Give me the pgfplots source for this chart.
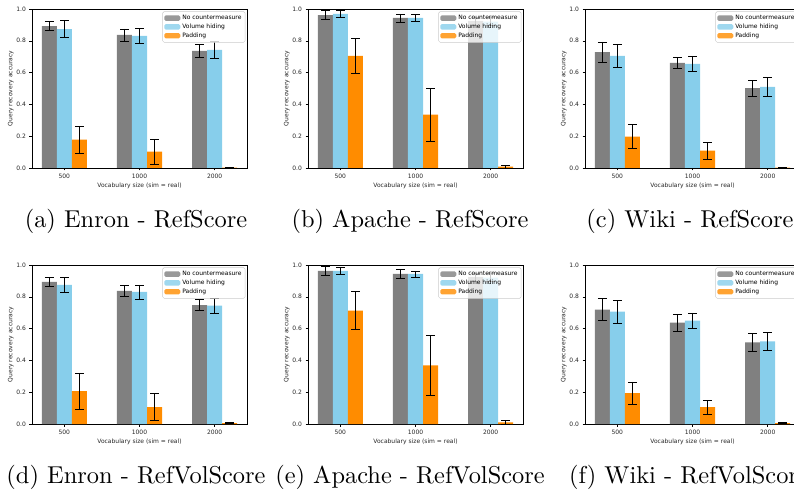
\documentclass[border=0pt]{standalone}
\usepackage{fontspec}
\usepackage{pgfplots}
\usepackage{pgfplotstable}
\pgfplotsset{compat=1.18}
\newfontfamily\mpl{DejaVu Sans}
\newfontfamily\capfont{lmroman10-regular.otf}
\newcommand{\mplsize}{\mpl\fontsize{6}{7.2}\selectfont}
\definecolor{cgray}{HTML}{808080}
\definecolor{cblue}{HTML}{87CEEB}
\definecolor{corange}{HTML}{FF8C00}

% columns: x, no countermeasure (g, ge), volume hiding (b, be), padding (o, oe)
\pgfplotstableread{
x g ge b be o oe
0 0.893 0.027 0.874 0.052 0.178 0.083
1 0.837 0.038 0.831 0.045 0.103 0.078
2 0.736 0.040 0.743 0.055 0.003 0.003
}\ta
\pgfplotstableread{
x g ge b be o oe
0 0.962 0.028 0.969 0.022 0.705 0.108
1 0.944 0.025 0.944 0.020 0.335 0.165
2 0.925 0.025 0.920 0.025 0.008 0.010
}\tb
\pgfplotstableread{
x g ge b be o oe
0 0.728 0.065 0.705 0.070 0.197 0.075
1 0.661 0.037 0.655 0.050 0.109 0.052
2 0.502 0.049 0.510 0.057 0.002 0.004
}\tc
\pgfplotstableread{
x g ge b be o oe
0 0.894 0.029 0.875 0.049 0.206 0.115
1 0.838 0.035 0.831 0.044 0.106 0.084
2 0.748 0.033 0.744 0.046 0.006 0.004
}\td
\pgfplotstableread{
x g ge b be o oe
0 0.963 0.027 0.963 0.021 0.713 0.120
1 0.944 0.026 0.944 0.019 0.369 0.189
2 0.925 0.025 0.920 0.025 0.010 0.012
}\te
\pgfplotstableread{
x g ge b be o oe
0 0.719 0.070 0.706 0.071 0.194 0.071
1 0.638 0.053 0.650 0.049 0.106 0.044
2 0.513 0.055 0.519 0.057 0.006 0.003
}\tf

\pgfplotsset{
  panel/.style={
    scale only axis, width=215pt, height=159pt, anchor=south west,
    xmin=-0.43, xmax=2.43, ymin=0, ymax=1,
    xtick={0,1,2}, xticklabels={500,1000,2000},
    ytick={0,0.2,0.4,0.6,0.8,1.0},
    yticklabel style={/pgf/number format/.cd, fixed, fixed zerofill, precision=1},
    /pgf/number format/assume math mode=true,
    tick pos=left, tick align=outside, major tick length=2.5pt,
    tick style={black, line width=0.5pt},
    axis line style={line width=0.6pt},
    ticklabel style={font=\mplsize, text=black!85},
    label style={font=\mplsize, text=black!85},
    xlabel={Vocabulary size (sim = real)},
    ylabel={Query recovery accuracy},
    xlabel style={yshift=2pt},
    ylabel style={yshift=-4pt},
    ybar, bar width=0.2,
    /pgfplots/error bars/y dir=both,
    /pgfplots/error bars/y explicit,
    /pgfplots/error bars/error bar style={black, line width=0.7pt},
    /pgfplots/error bars/error mark options={black, rotate=90, mark size=4.3pt, line width=0.7pt},
    every axis plot/.append style={draw=none,
      legend image code/.code={\fill[##1] (0pt,-2.7pt) rectangle (16pt,2.7pt);}},
    legend cell align=left,
    legend style={at={(0.992,0.985)}, anchor=north east,
      draw=black!20, fill=white, fill opacity=0.8, draw opacity=1, text opacity=1,
      rounded corners=1.5pt, font=\mplsize, inner sep=1.6pt, row sep=-1.2pt},
  },
}

\newcommand{\panel}[3]{%
\begin{axis}[panel, at={(0pt,0pt)}, xshift=#1, yshift=#2]
\addplot[fill=cgray, bar shift=-0.2] table[x=x, y=g, y error=ge]{#3};
\addplot[fill=cblue, bar shift=0] table[x=x, y=b, y error=be]{#3};
\addplot[fill=corange, bar shift=0.2] table[x=x, y=o, y error=oe]{#3};
\legend{No countermeasure, Volume hiding, Padding}
\end{axis}%
}

\begin{document}
\begin{tikzpicture}
\useasboundingbox (0pt,0pt) rectangle (794pt,493pt);
\clip (0pt,0pt) rectangle (794pt,493pt);
\panel{32pt}{325pt}{\ta}
\panel{308pt}{325pt}{\tb}
\panel{585pt}{325pt}{\tc}
\panel{32pt}{69pt}{\td}
\panel{308pt}{69pt}{\te}
\panel{585pt}{69pt}{\tf}
\begin{scope}[every node/.style={anchor=base, font=\capfont\fontsize{24.4}{29}\selectfont}]
\node at (136pt,265pt) {(a) Enron - RefScore};
\node at (410pt,265pt) {(b) Apache - RefScore};
\node at (690pt,265pt) {(c) Wiki - RefScore};
\node at (136pt,10pt) {(d) Enron - RefVolScore};
\node at (410pt,10pt) {(e) Apache - RefVolScore};
\node at (689pt,10pt) {(f) Wiki - RefVolScore};
\end{scope}
\end{tikzpicture}
\end{document}
